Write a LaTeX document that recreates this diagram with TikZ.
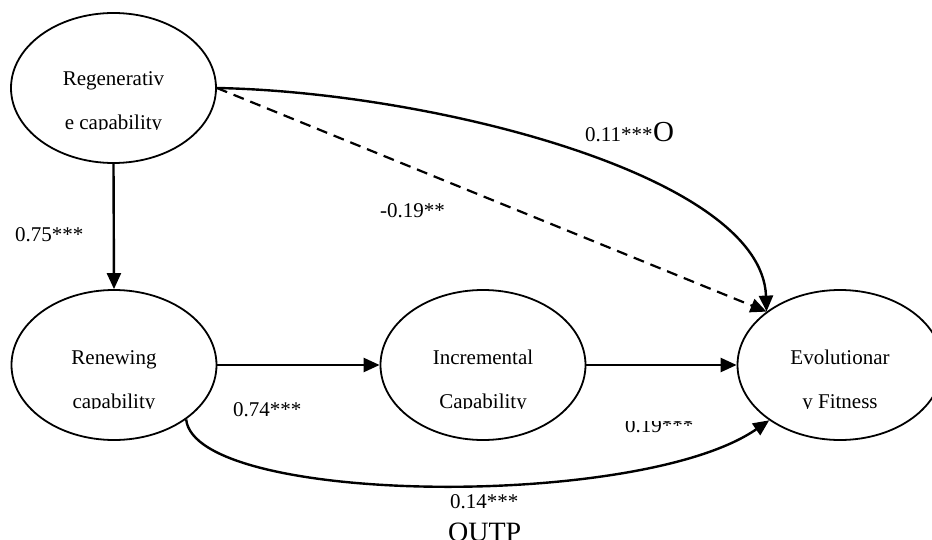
\documentclass[tikz,border=0pt]{standalone}
\usepackage{fontspec}
\setmainfont{Liberation Serif}
\usetikzlibrary{shapes.geometric,arrows.meta}
\tikzset{
  latent/.style={draw, ellipse, line width=1.8pt, minimum width=205pt,
    minimum height=150pt, inner sep=0pt},
  conn/.style={line width=2.4pt, -{Triangle[length=16pt,width=14pt]}},
  dashconn/.style={conn, line width=2.2pt, dash pattern=on 11pt off 7pt},
  txt/.style={anchor=base, inner sep=0pt, font=\fontsize{21}{25}\selectfont},
  coef/.style={anchor=base west, inner sep=0pt, font=\fontsize{21}{25}\selectfont},
}
\begin{document}
\begin{tikzpicture}[x=1pt,y=-1pt]
\useasboundingbox (0,0) rectangle (932,540);
\clip (0,0) rectangle (932,540);

% latent constructs
\node[latent] (regen) at (113.5,88) {};
\node[latent] (renew) at (114,365) {};
\node[latent] (incr)  at (483,365) {};
\node[latent] (evol)  at (840,365) {};

% construct names (second lines cut at the baseline)
\node[txt] (regenA) at (113.5,86) {Regenerativ};
\begin{scope}
  \clip (20,100) rectangle (210,130);
  \node[txt] (regenB) at (113.5,130) {e capability};
\end{scope}
\node[txt] (renewA) at (114,364) {Renewing};
\begin{scope}
  \clip (20,380) rectangle (210,408);
  \node[txt] (renewB) at (114,408) {capability};
\end{scope}
\node[txt] (incrA) at (483,364) {Incremental};
\begin{scope}
  \clip (390,380) rectangle (580,408);
  \node[txt] (incrB) at (483,408) {Capability};
\end{scope}
\node[txt] (evolA) at (840,364) {Evolutionar};
\begin{scope}
  \clip (745,380) rectangle (932,408);
  \node[txt] (evolB) at (840,408) {y Fitness};
\end{scope}

% paths
\draw[conn] (regen.south) -- (renew.north);
\draw[conn] (renew.east) -- (incr.west);
\draw[conn] (incr.east) -- (evol.west);
\draw[conn] (regen.east) .. controls (430,92) and (762,175) .. (evol.144);
\draw[dashconn] (regen.east) -- (evol.144);
\draw[conn] (renew.-37) .. controls (195,505) and (640,510) .. (evol.218);

% path coefficients
\node[coef] (c75) at (15,242) {0.75***};
\node[coef] (c19n) at (380,218) {-0.19**};
\node[coef] (c11) at (585,142) {0.11***};
\node[anchor=base west, inner sep=0pt, font=\fontsize{29}{32}\selectfont] (c11o) at (c11.base east) {O};
\node[coef] (c74) at (233,416) {0.74***};
\begin{scope}
  \clip (615,421) rectangle (710,445);
  \node[coef] (c19) at (625,432) {0.19***};
\end{scope}
\node[coef] (c14) at (450,508) {0.14***};
\node[anchor=base west, inner sep=0pt, font=\fontsize{28}{32}\selectfont] (outp) at (448,541) {OUTP};
\end{tikzpicture}
\end{document}
